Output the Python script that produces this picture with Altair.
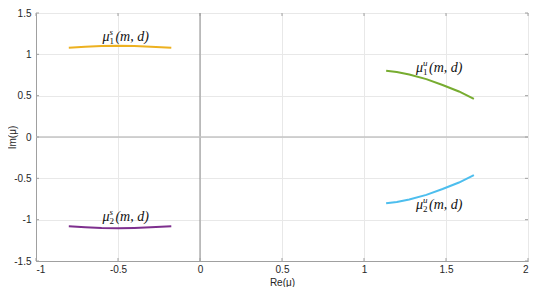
import altair as alt
import pandas as pd

# ---- data ----
s1_re = [-0.80, -0.70, -0.60, -0.50, -0.40, -0.30, -0.175]
s1_im = [1.080, 1.092, 1.100, 1.103, 1.100, 1.093, 1.080]
s2_re = [-0.80, -0.70, -0.60, -0.50, -0.40, -0.30, -0.175]
s2_im = [-1.080, -1.092, -1.100, -1.103, -1.100, -1.093, -1.080]
u1_re = [1.135, 1.20, 1.276, 1.38, 1.479, 1.579, 1.67]
u1_im = [0.802, 0.785, 0.755, 0.70, 0.629, 0.551, 0.461]
u2_re = [1.135, 1.20, 1.276, 1.38, 1.479, 1.579, 1.67]
u2_im = [-0.802, -0.785, -0.755, -0.70, -0.629, -0.551, -0.461]

series_names = ["mu1s", "mu2s", "mu1u", "mu2u"]
series_colors = ["#EDB120", "#7E2F8E", "#77AC30", "#4DBEEE"]

label_x = [-0.595, -0.595, 1.317, 1.317]
label_y = [1.16, -1.015, 0.79, -0.875]
label_sub = ["1", "2", "1", "2"]
label_sup = ["s", "s", "u", "u"]

x_ticks = [-1, -0.5, 0, 0.5, 1, 1.5, 2]
y_ticks = [-1.5, -1, -0.5, 0, 0.5, 1, 1.5]

W, H = 492, 248

rows = []
for name, xs, ys in [("mu1s", s1_re, s1_im), ("mu2s", s2_re, s2_im),
                     ("mu1u", u1_re, u1_im), ("mu2u", u2_re, u2_im)]:
    for i, (a, b) in enumerate(zip(xs, ys)):
        rows.append({"s": name, "i": i, "re": a, "im": b})
curves = pd.DataFrame(rows)

labels = pd.DataFrame({"x": label_x, "y": label_y, "sub": label_sub, "sup": label_sup})

xs = alt.Scale(domain=[-1, 2], nice=False, zero=False)
ys = alt.Scale(domain=[-1.5, 1.5], nice=False, zero=False)

axis_common = dict(
    gridColor="#e8e8e8", gridWidth=1, domainColor="#a0a0a0", ticks=False,
    labelFont="Liberation Sans", labelFontSize=10, labelColor="#262626",
    titleFont="Liberation Sans", titleFontSize=10, titleColor="#262626",
    titleFontWeight="normal", labelExpr="'' + datum.value",
)

base = alt.Chart(curves)

lines = base.mark_line(strokeWidth=2).encode(
    x=alt.X("re:Q", scale=xs, axis=alt.Axis(values=x_ticks, title="Re(μ)", labelPadding=3,
                                            titlePadding=3, **axis_common)),
    y=alt.Y("im:Q", scale=ys, axis=alt.Axis(values=y_ticks, title="Im(μ)", labelPadding=5,
                                            titleX=-19, titleY=H / 2, titleAngle=270,
                                            titleBaseline="bottom", **axis_common)),
    color=alt.Color("s:N", scale=alt.Scale(domain=series_names, range=series_colors), legend=None),
    order="i:Q",
)

zx = alt.Chart(pd.DataFrame({"v": [0]})).mark_rule(color="#8a8a8a", strokeWidth=1).encode(
    x=alt.X("v:Q", scale=xs))
zy = alt.Chart(pd.DataFrame({"v": [0]})).mark_rule(color="#c4c4c4", strokeWidth=1.5).encode(
    y=alt.Y("v:Q", scale=ys))

xt = pd.DataFrame({"v": x_ticks})
yt = pd.DataFrame({"v": y_ticks})
tick_col = "#a0a0a0"
tb = alt.Chart(xt).mark_rule(color=tick_col).encode(x=alt.X("v:Q", scale=xs), y=alt.value(H), y2=alt.value(H - 3))
tt = alt.Chart(xt).mark_rule(color=tick_col).encode(x=alt.X("v:Q", scale=xs), y=alt.value(0), y2=alt.value(3))
tl = alt.Chart(yt).mark_rule(color=tick_col).encode(y=alt.Y("v:Q", scale=ys), x=alt.value(0), x2=alt.value(3))
tr = alt.Chart(yt).mark_rule(color=tick_col).encode(y=alt.Y("v:Q", scale=ys), x=alt.value(W), x2=alt.value(W - 3))

lab = alt.Chart(labels)
serif = "Liberation Serif"
t_mu = lab.mark_text(align="left", baseline="alphabetic", font=serif, fontStyle="italic",
                     fontSize=14, color="#111").encode(
    x=alt.X("x:Q", scale=xs), y=alt.Y("y:Q", scale=ys), text=alt.value("μ"))
t_sub = lab.mark_text(align="left", baseline="alphabetic", font=serif, fontSize=9, dx=7, dy=3,
                      color="#111").encode(
    x=alt.X("x:Q", scale=xs), y=alt.Y("y:Q", scale=ys), text="sub:N")
t_sup = lab.mark_text(align="left", baseline="alphabetic", font=serif, fontStyle="italic",
                      fontSize=9, dx=7, dy=-6, color="#111").encode(
    x=alt.X("x:Q", scale=xs), y=alt.Y("y:Q", scale=ys), text="sup:N")
t_arg = lab.mark_text(align="left", baseline="alphabetic", font=serif, fontStyle="italic",
                      fontSize=14, dx=13, color="#111").encode(
    x=alt.X("x:Q", scale=xs), y=alt.Y("y:Q", scale=ys), text=alt.value("(m, d)"))

chart = alt.layer(zx, zy, lines, tb, tt, tl, tr, t_mu, t_sub, t_sup, t_arg).properties(
    width=W, height=H,
    autosize=alt.AutoSizeParams(type="none"),
    padding={"left": 28, "top": 5, "right": 2, "bottom": 26},
).configure_view(stroke="#a0a0a0", strokeWidth=1).configure_axis(grid=True)

chart.save("out.html", embed_options={"renderer": "svg", "actions": False})
